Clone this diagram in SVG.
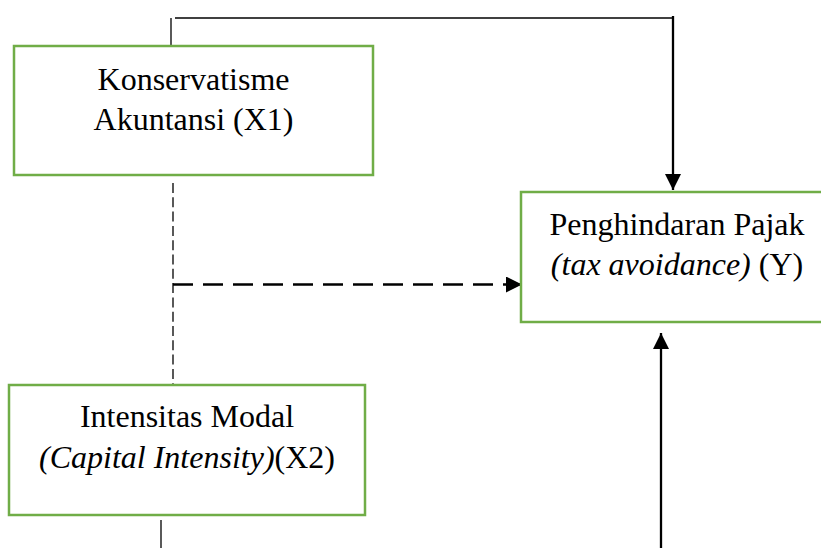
<svg xmlns="http://www.w3.org/2000/svg" width="821" height="548" viewBox="0 0 821 548">
<style>
.box{fill:#fff;stroke:#70AD47;stroke-width:2.5}
.t{font-family:"Liberation Serif","Times New Roman",serif;font-size:32px;fill:#000;text-anchor:middle}
.i{font-style:italic}
.thin{stroke:#000;stroke-width:1.3;fill:none}
.thick{stroke:#000;stroke-width:2.3;fill:none}
</style>
<defs>
<marker id="ah" markerUnits="userSpaceOnUse" markerWidth="16" markerHeight="16" viewBox="0 0 16 16" refX="16" refY="8" orient="auto">
<path d="M0,0 L16,8 L0,16 Z" fill="#000"/>
</marker>
</defs>
<g id="connectors">
<line class="thin" x1="171" y1="18" x2="171" y2="47"/>
<line class="thin" x1="175" y1="18" x2="673" y2="18"/>
<line class="thick" x1="673" y1="16" x2="673" y2="190" marker-end="url(#ah)"/>
<line class="thin" x1="173" y1="183" x2="173" y2="384" stroke-dasharray="10 4.3"/>
<line class="thick" x1="173" y1="284.5" x2="522" y2="284.5" stroke-width="2.6" stroke-dasharray="20 10" marker-end="url(#ah)"/>
<line class="thin" x1="161" y1="520" x2="161" y2="548"/>
<line class="thick" x1="661" y1="548" x2="661" y2="333" marker-end="url(#ah)"/>
</g>
<g id="x1">
<rect class="box" x="14" y="46" width="359" height="129"/>
<text class="t" x="193.5" y="90">Konservatisme</text>
<text class="t" x="193.5" y="130">Akuntansi (X1)</text>
</g>
<g id="y">
<rect class="box" x="521" y="192" width="302" height="130"/>
<text class="t" x="677" y="235">Penghindaran Pajak</text>
<text class="t" x="677" y="275"><tspan class="i">(tax avoidance)</tspan> (Y)</text>
</g>
<g id="x2">
<rect class="box" x="9" y="385" width="356" height="130"/>
<text class="t" x="187" y="427">Intensitas Modal</text>
<text class="t" x="187" y="468"><tspan class="i">(Capital Intensity)</tspan>(X2)</text>
</g>
</svg>
